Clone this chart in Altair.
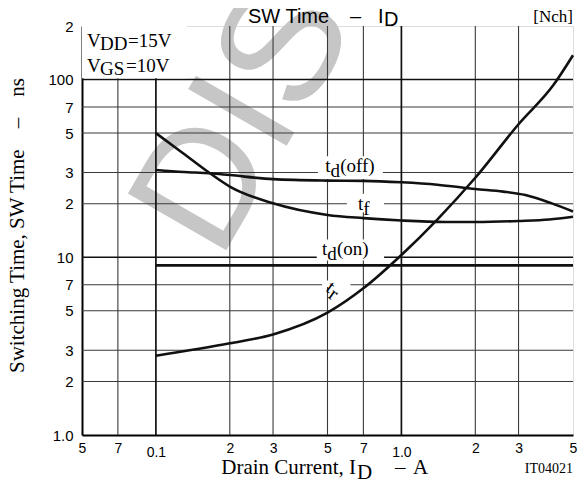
import altair as alt
import pandas as pd

# ---------------- data ----------------
x_ticks = [0.05, 0.07, 0.1, 0.2, 0.3, 0.5, 0.7, 1.0, 2, 3, 5]
x_tick_labels = ["5", "7", "0.1", "2", "3", "5", "7", "1.0", "2", "3", "5"]
y_ticks = [1, 2, 3, 5, 7, 10, 20, 30, 50, 70, 100, 200]
y_tick_labels = ["1.0", "2", "3", "5", "7", "10", "2", "3", "5", "7", "100", "2"]

x_grid_minor = [0.07, 0.2, 0.3, 0.5, 0.7, 2, 3]
x_grid_major = [0.1, 1.0]
y_grid_minor = [2, 3, 5, 7, 20, 30, 50, 70]
y_grid_major = [10, 100]

td_off_x = [0.1, 0.13, 0.166, 0.2, 0.3, 0.5, 0.7, 1.0, 1.4, 2.0, 2.6, 3.2, 4.1, 5.0]
td_off_y = [31, 30.2, 29.7, 29, 27.5, 27, 26.9, 26.4, 25.6, 24.2, 23.4, 22.4, 20.1, 18.1]

tf_x = [0.1, 0.129, 0.166, 0.2, 0.3, 0.5, 0.7, 1.0, 1.5, 2, 3, 4, 5]
tf_y = [49.9, 38.5, 29.7, 25, 20.1, 17.3, 16.6, 16.1, 15.8, 15.8, 16, 16.3, 16.9]

tr_x = [0.1, 0.2, 0.3, 0.5, 0.7, 1.0, 1.4, 2.0, 3.0, 4.16, 5.0]
tr_y = [2.79, 3.28, 3.68, 4.88, 6.69, 10.3, 16.3, 28, 56, 93, 137]

td_on_x = [0.1, 5.0]
td_on_y = [9, 9]

# ---------------- helpers ----------------
W, H = 491, 409
SERIF = "Liberation Serif"
SANS = "Liberation Sans"


def lookup_expr(vals, labels):
    expr = "''"
    for v, l in reversed(list(zip(vals, labels))):
        expr = f"(abs(datum.value - {v}) < {v} * 0.001 ? '{l}' : {expr})"
    return expr


xs = alt.Scale(type="log", domain=[0.05, 5], nice=False)
ys = alt.Scale(type="log", domain=[1, 200], nice=False)

x_axis = alt.Axis(
    values=x_ticks,
    labelExpr=lookup_expr(x_ticks, x_tick_labels),
    grid=False, ticks=False, title=None,
    domainColor="black", domainWidth=2,
    labelFont=SANS, labelFontSize=14, labelColor="black",
    labelAngle=0, labelFlush=False, labelOverlap=False,
    labelPadding={"condition": {"test": "abs(datum.value - 0.1) < 0.0001 || abs(datum.value - 1) < 0.001",
                                "value": 10}, "value": 6},
)
y_axis = alt.Axis(
    values=y_ticks,
    labelExpr=lookup_expr(y_ticks, y_tick_labels),
    grid=False, ticks=False, title=None,
    domainColor="black", domainWidth=2,
    labelFont=SANS, labelFontSize=15, labelColor="black",
    labelPadding=9, labelFlush=False, labelOverlap=False,
)


def X(field="x"):
    return alt.X(f"{field}:Q", scale=xs, axis=x_axis)


def Y(field="y"):
    return alt.Y(f"{field}:Q", scale=ys, axis=y_axis)


OX, OY = 82, 26  # page origin of plot

layers = []

# watermark
layers.append(
    alt.Chart(alt.Data(values=[{}])).mark_text(
        font=SANS, fontSize=165, align="center", baseline="middle", angle=300, color="#c6c6c6"
    ).encode(x=alt.value(245 - OX), y=alt.value(118 - OY), text=alt.value("DIS"))
)


# grid
def vrules(vals, color, width):
    return alt.Chart(pd.DataFrame({"x": vals})).mark_rule(color=color, strokeWidth=width).encode(x=X())


def hrules(vals, color, width):
    return alt.Chart(pd.DataFrame({"y": vals})).mark_rule(color=color, strokeWidth=width).encode(y=Y())


layers += [vrules(x_grid_minor, "#3a3a3a", 1.1), hrules(y_grid_minor, "#3a3a3a", 1.1),
           vrules(x_grid_major, "#111111", 1.7), hrules(y_grid_major, "#111111", 1.7)]

# white boxes (label backgrounds)
boxes = pd.DataFrame({
    "x": [0.05, 0.457, 0.60, 0.452, 0.475],
    "x2": [0.134, 0.84, 0.85, 0.85, 0.62],
    "y": [101.5, 27.6, 17.9, 9.6, 6.8],
    "y2": [200, 37, 22.8, 12.6, 7.4],
})
layers.append(
    alt.Chart(boxes).mark_rect(color="white").encode(
        x=X(), x2="x2:Q", y=Y(), y2="y2:Q")
)

# curves
curves = pd.concat([
    pd.DataFrame({"x": td_off_x, "y": td_off_y, "s": "td_off"}),
    pd.DataFrame({"x": tf_x, "y": tf_y, "s": "tf"}),
    pd.DataFrame({"x": tr_x, "y": tr_y, "s": "tr"}),
    pd.DataFrame({"x": td_on_x, "y": td_on_y, "s": "td_on"}),
])
layers.append(
    alt.Chart(curves).mark_line(color="#111111", strokeWidth=2.6, interpolate="monotone").encode(
        x=X(), y=Y(), detail="s:N")
)


# data-anchored text pieces
def dtext(x, y, pieces, size=19, angle=0):
    out = []
    for txt, dx, dy in pieces:
        out.append(
            alt.Chart(pd.DataFrame({"x": [x], "y": [y], "t": [txt]})).mark_text(
                font=SERIF, fontSize=size, align="left", baseline="alphabetic",
                dx=dx, dy=dy, color="black", angle=angle).encode(x=X(), y=Y(), text="t:N")
        )
    return out


layers += dtext(0.489, 30, [("t", 0, 0), ("d", 5.3, 5), ("(off)", 15, 0)])
layers += dtext(0.665, 18.5, [("t", 0, 0), ("f", 5.3, 5)])
layers += dtext(0.475, 10.3, [("t", 0, 0), ("d", 5.3, 5), ("(on)", 15, 0)])
layers += dtext(0.487, 6.5, [("t", 0, 0), ("r", 6, 4)], size=20, angle=35)


# pixel-anchored annotations (outside / fixed)
def ptext(px, py, txt, size=19, font=SERIF, align="left", angle=0):
    return alt.Chart(alt.Data(values=[{}])).mark_text(
        font=font, fontSize=size, align=align, baseline="alphabetic", angle=angle, color="black"
    ).encode(x=alt.value(px - OX), y=alt.value(py - OY), text=alt.value(txt))


layers += [
    ptext(87, 47, "V"), ptext(100, 50, "DD"), ptext(128, 47, "=15V"),
    ptext(87, 72, "V"), ptext(100, 75, "GS"), ptext(126, 72, "=10V"),
    ptext(248, 23, "SW Time", size=20, font=SANS),
    ptext(350, 23, "\u2013", size=20, font=SANS),
    ptext(378, 23, "I", size=20, font=SANS),
    ptext(384, 26, "D", size=20, font=SANS),
    ptext(573, 22, "[Nch]", size=17, align="right"),
    ptext(356, 474, "Drain Current, I", size=21, align="right"),
    ptext(357, 479, "D", size=21),
    ptext(395, 474, "\u2013", size=21),
    ptext(413, 474, "A", size=21),
    ptext(573, 473, "IT04021", size=14, align="right"),
    ptext(24, 373, "Switching Time, SW Time\u00a0\u00a0\u00a0\u00a0\u2013\u00a0\u00a0\u00a0\u00a0ns",
          size=21, angle=270),
]

chart = alt.layer(*layers).properties(
    width=W, height=H,
    autosize=alt.AutoSizeParams(type="none"),
    padding={"left": OX - 8, "top": OY - 8, "right": 5, "bottom": 48},
).configure_view(stroke="black", strokeWidth=1.5).configure(background="white")

chart.save("out.html", embed_options={"renderer": "svg", "actions": False})
